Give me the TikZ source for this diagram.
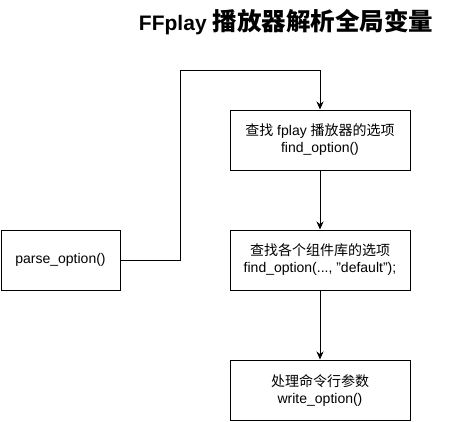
\documentclass[tikz,border=0pt]{standalone}
\usepackage{fontspec}
\setmainfont{Liberation Sans}
\newfontfamily\cjk{Noto Sans CJK SC}
\usetikzlibrary{arrows.meta}

\begin{document}
\begin{tikzpicture}[x=1pt,y=-1pt,
    box/.style={draw, line width=1pt, minimum width=180pt, minimum height=60pt,
      align=center, inner sep=0pt, font=\fontsize{14}{17}\selectfont},
    flow/.style={line width=1pt, -{Stealth[length=8pt,width=7pt]}}]
        \useasboundingbox (0,0) rectangle (461,421);
        \node (title) at (286,22) {\bfseries\fontsize{21}{24}\selectfont FFplay {\cjk\fontsize{24.5}{26}\selectfont 播放器解析全局变量}};
        \node[box, minimum width=119pt] (parse) at (60.5,260) {parse\_option()};
        \node[box] (fplay) at (320,140) {{\cjk 查找} fplay {\cjk 播放器的选项}\\find\_option()};
        \node[box] (libs) at (320,260) {{\cjk 查找各个组件库的选项}\\find\_option(..., "default");};
        \node[box] (args) at (320,390) {{\cjk 处理命令行参数}\\write\_option()};
        \coordinate (bend) at (180,70);
        \draw[flow] (parse.east) -| (bend) -| (fplay.north);
        \draw[flow] (fplay) -- (libs);
        \draw[flow] (libs) -- (args);
    \end{tikzpicture}
\end{document}
